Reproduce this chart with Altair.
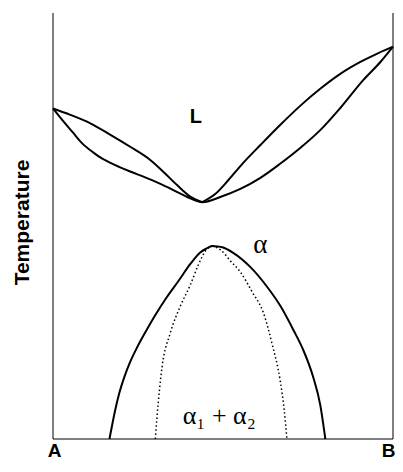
import altair as alt
import pandas as pd

# Composition axis: 0 = pure A, 100 = pure B; temperature in arbitrary units (0-100)
liq_left_x = [0, 5.1, 11.0, 16.9, 22.7, 28.6, 32.5, 36.5, 40.4, 43.9]
liq_left_y = [77.6, 76.1, 74.1, 71.4, 68.6, 65.5, 62.7, 59.6, 56.9, 55.6]
liq_right_x = [43.9, 47.7, 51.6, 55.7, 61.0, 66.8, 72.7, 78.6, 84.5, 90.4, 95.7, 100]
liq_right_y = [55.6, 57.5, 60.8, 64.6, 69.0, 73.7, 78.2, 82.2, 85.7, 88.5, 90.6, 92.1]

sol_x = [0, 2.7, 5.7, 8.6, 11.6, 14.5, 18.3, 22.7, 27.1, 31.6, 36.0, 39.8, 43.9,
         49.2, 55.1, 61.0, 66.8, 72.7, 78.6, 84.5, 91.3, 96.3, 100]
sol_y = [77.6, 74.9, 72.1, 69.4, 67.4, 65.8, 64.3, 62.8, 61.4, 59.9, 58.2, 56.7, 55.6,
         56.8, 58.7, 61.3, 64.6, 68.3, 72.5, 77.7, 84.3, 88.5, 92.1]

solvus_x = [16.6, 17.4, 18.3, 19.5, 21.0, 22.7, 24.8, 27.2, 30.1, 33.3, 36.9, 40.4, 43.3,
            45.1, 46.8, 48.3, 49.8, 53.0, 58.0, 62.9, 66.9, 70.7, 73.6, 76.5, 78.6, 80.1]
solvus_y = [0, 3.3, 6.8, 10.8, 14.6, 18.1, 21.6, 25.1, 29.1, 33.1, 37.1, 41.1, 43.8,
            44.7, 45.3, 45.2, 45.0, 43.7, 40.4, 35.8, 31.2, 25.6, 20.9, 14.6, 8.0, 0]

spin_left_x = [30.1, 30.6, 32.1, 34.5, 37.4, 40.4, 42.7, 45.1, 46.8]
spin_left_y = [0, 5.2, 17.0, 24.9, 31.1, 36.2, 40.8, 44.4, 45.3]
spin_right_x = [46.8, 49.3, 52.2, 55.1, 58.6, 61.9, 64.5, 66.8, 68.0, 68.8]
spin_right_y = [45.3, 44.4, 41.8, 39.2, 34.5, 29.6, 22.1, 13.8, 6.8, 0]

frame_x = [0, 100, 0]
frame_x2 = [0, 100, 100]
frame_y = [0, 0, 0]
frame_y2 = [100, 100, 0]

end_labels = ["A", "B"]
end_values = [0, 100]

phase_L = ["L"]
phase_L_x = [40.2]
phase_L_y = [74.2]
phase_alpha = ["α"]
phase_alpha_x = [61.0]
phase_alpha_y = [43.7]
phase_two = ["α₁ + α₂"]
phase_two_x = [48.9]
phase_two_y = [3.5]


def curve(name, xs, ys):
    return pd.DataFrame({"x": xs, "y": ys, "curve": name})


def labels(texts, xs, ys):
    return pd.DataFrame({"x": xs, "y": ys, "label": texts})


solid_df = pd.concat([
    curve("liquidus_left", liq_left_x, liq_left_y),
    curve("liquidus_right", liq_right_x, liq_right_y),
    curve("solidus", sol_x, sol_y),
    curve("solvus", solvus_x, solvus_y),
], ignore_index=True)
dotted_df = pd.concat([
    curve("spinodal_left", spin_left_x, spin_left_y),
    curve("spinodal_right", spin_right_x, spin_right_y),
], ignore_index=True)
frame_df = pd.DataFrame({"x": frame_x, "x2": frame_x2, "y": frame_y, "y2": frame_y2})

label_expr = "datum.value == {} ? '{}' : '{}'".format(end_values[0], end_labels[0], end_labels[1])

xscale = alt.Scale(domain=[0, 100], nice=False, zero=False)
yscale = alt.Scale(domain=[0, 100], nice=False, zero=False)
xaxis = alt.Axis(values=end_values, labelExpr=label_expr,
                 labelFlush=False, ticks=False, tickSize=0, domain=False, grid=False,
                 labelAlign={"condition": {"test": "datum.value == 100", "value": "right"},
                             "value": "center"},
                 labelOffset={"condition": {"test": "datum.value == 100", "value": 2},
                              "value": 1},
                 labelFont="Liberation Sans", labelFontSize=19, labelFontWeight="bold",
                 labelColor="black", labelPadding=2, title=None)
yaxis = alt.Axis(title="Temperature", labels=False, ticks=False, tickSize=0,
                 domain=False, grid=False, titleFont="Liberation Sans",
                 titleFontSize=21, titleFontWeight="bold", titleColor="black",
                 titlePadding=21, titleY=209)

X = alt.X("x:Q", scale=xscale, axis=xaxis)
Y = alt.Y("y:Q", scale=yscale, axis=yaxis)

frame = alt.Chart(frame_df).mark_rule(color="black", strokeWidth=1).encode(
    x=X, x2="x2:Q", y=Y, y2="y2:Q")

solid = alt.Chart(solid_df).mark_line(
    color="black", strokeWidth=2, interpolate="monotone").encode(
    x=X, y=Y, detail="curve:N")

dotted = alt.Chart(dotted_df).mark_line(
    color="black", strokeWidth=1.5, strokeDash=[1.5, 2.5], interpolate="monotone").encode(
    x=X, y=Y, detail="curve:N")

text_L = alt.Chart(labels(phase_L, phase_L_x, phase_L_y)).mark_text(
    font="Liberation Sans", fontSize=20, fontWeight="bold", align="left",
    baseline="alphabetic", color="black").encode(x=X, y=Y, text="label:N")

text_alpha = alt.Chart(labels(phase_alpha, phase_alpha_x, phase_alpha_y)).mark_text(
    font="Liberation Serif", fontSize=27, align="center",
    baseline="alphabetic", color="black").encode(x=X, y=Y, text="label:N")

text_two = alt.Chart(labels(phase_two, phase_two_x, phase_two_y)).mark_text(
    font="Liberation Serif", fontSize=26, align="center",
    baseline="alphabetic", color="black").encode(x=X, y=Y, text="label:N")

chart = alt.layer(frame, solid, dotted, text_L, text_alpha, text_two).properties(
    width=340, height=426,
    padding={"left": 45, "top": 5, "right": 2, "bottom": 21},
    autosize=alt.AutoSizeParams(type="none"),
).configure_view(stroke=None)

chart.save("out.html", embed_options={"renderer": "svg", "actions": False})
